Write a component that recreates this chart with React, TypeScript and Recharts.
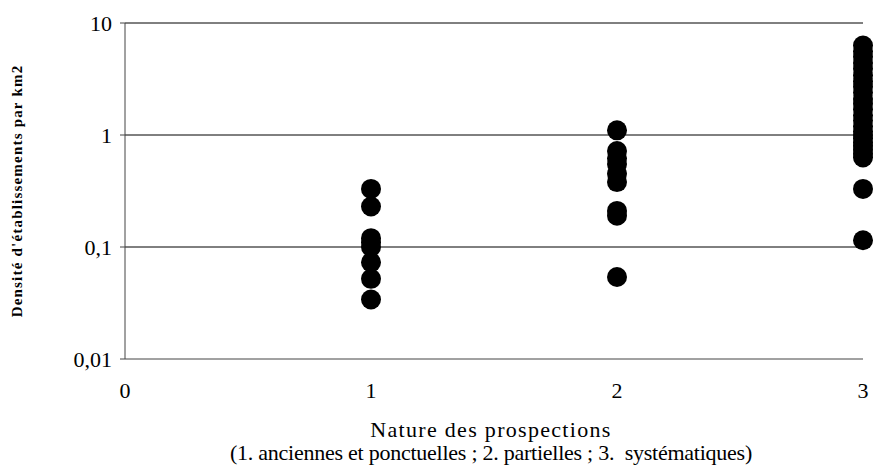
import React from "react";
import { ScatterChart, Scatter, XAxis, YAxis, CartesianGrid } from "recharts";

const xTicks = [0, 1, 2, 3];
const yTicks = [0.01, 0.1, 1, 10];

const cat1Values = [0.33, 0.23, 0.12, 0.11, 0.1, 0.073, 0.052, 0.034];
const cat2Values = [1.1, 0.72, 0.62, 0.55, 0.45, 0.38, 0.21, 0.19, 0.054];
const cat3Values = [
  6.3, 5.6, 5.0, 4.4, 3.9, 3.4, 3.0, 2.7, 2.4, 2.1, 1.9, 1.7, 1.5, 1.35, 1.2,
  1.08, 1.0, 0.93, 0.86, 0.8, 0.74, 0.68, 0.63, 0.33, 0.115,
];

const points = [
  ...cat1Values.map((v) => ({ x: 1, y: v })),
  ...cat2Values.map((v) => ({ x: 2, y: v })),
  ...cat3Values.map((v) => ({ x: 3, y: v })),
];

const FONT = "Liberation Serif";

const Dot = (props: any) => (
  <circle cx={props.cx} cy={props.cy} r={10} fill="#000" />
);

const fmt = (v: number) => String(v).replace(".", ",");

export default function App() {
  return (
    <div
      style={{ position: "absolute", left: 0, top: 0, fontFamily: FONT }}
    >
      <ScatterChart
        width={881}
        height={468}
        margin={{ top: 23, right: 18, bottom: 69, left: 0 }}
        style={{ fontFamily: FONT }}
      >
        <CartesianGrid
          vertical={false}
          stroke="#000"
          strokeWidth={1}
          horizontalValues={[0.1, 1, 10]}
        />
        <XAxis
          type="number"
          dataKey="x"
          domain={[0, 3]}
          ticks={xTicks}
          height={40}
          tickLine={false}
          tickMargin={17}
          axisLine={{ stroke: "#444" }}
          tick={{ fill: "#000", fontSize: 22, style: { fontFamily: FONT } }}
          label={{
            content: () => (
              <g style={{ fontFamily: FONT }}>
                <text
                  x={491}
                  y={437}
                  textAnchor="middle"
                  fontSize={22}
                  fill="#000"
                  style={{ letterSpacing: 1.3 }}
                >
                  Nature des prospections
                </text>
                <text
                  x={491}
                  y={460}
                  textAnchor="middle"
                  fontSize={22}
                  fill="#000"
                  xmlSpace="preserve"
                  style={{ whiteSpace: "pre", letterSpacing: -0.25 }}
                >
                  (1. anciennes et ponctuelles ; 2. partielles ; 3.  systématiques)
                </text>
              </g>
            ),
          }}
        />
        <YAxis
          type="number"
          dataKey="y"
          scale="log"
          domain={[0.01, 10]}
          ticks={yTicks}
          allowDataOverflow
          width={125}
          tickSize={5}
          tickMargin={8}
          tickFormatter={fmt}
          axisLine={{ stroke: "#444" }}
          tickLine={{ stroke: "#444" }}
          tick={{ fill: "#000", fontSize: 22, style: { fontFamily: FONT } }}
          label={{
            content: () => (
              <text
                x={22}
                y={191}
                transform="rotate(-90 22 191)"
                textAnchor="middle"
                fontWeight="bold"
                fontSize={15}
                fill="#000"
                style={{ fontFamily: FONT, letterSpacing: 1.2 }}
              >
                Densité d'établissements par km2
              </text>
            ),
          }}
        />
        <Scatter data={points} shape={Dot} isAnimationActive={false} />
      </ScatterChart>
    </div>
  );
}
